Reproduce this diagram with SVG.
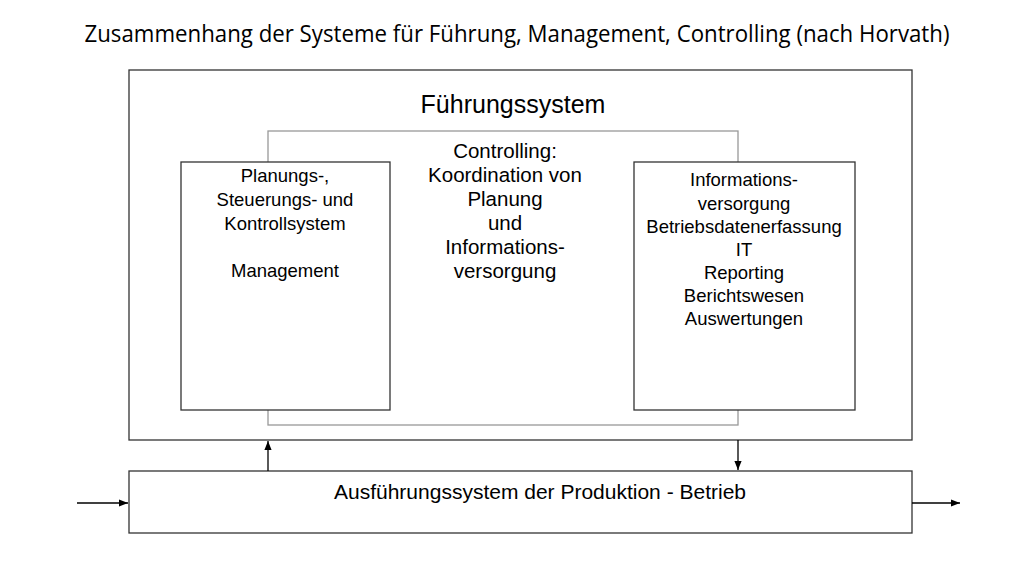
<svg xmlns="http://www.w3.org/2000/svg" width="1024" height="576" viewBox="0 0 1024 576">
<defs>
<style>
.box{fill:#fff;stroke:#333;stroke-width:1.3}
.gray{fill:none;stroke:#999;stroke-width:1.3}
text{font-family:"Liberation Sans",Arial,sans-serif;fill:#000;text-anchor:middle}
.s{font-size:18.5px}
.c{font-size:20.5px}
.ln{stroke:#000;stroke-width:1.3;fill:none}
</style>
<marker id="a" viewBox="0 0 10 10" refX="10" refY="5" markerWidth="7" markerHeight="7" orient="auto"><path d="M0,1L10,5L0,9z" fill="#000"/></marker>
</defs>
<rect width="1024" height="576" fill="#fff"/>
<text x="517" y="42" style="font-family:'Open Sans','Liberation Sans',sans-serif;font-size:23px" textLength="865" lengthAdjust="spacingAndGlyphs">Zusammenhang der Systeme für Führung, Management, Controlling (nach Horvath)</text>
<g id="fuehrung">
<rect class="box" x="129" y="70" width="783" height="370"/>
<text x="513" y="113" style="font-size:25px">Führungssystem</text>
</g>
<g id="controlling">
<rect class="gray" x="268" y="131" width="470" height="294"/>
<text class="c" x="505" y="158">Controlling:</text>
<text class="c" x="505" y="182">Koordination von</text>
<text class="c" x="505" y="206">Planung</text>
<text class="c" x="505" y="230">und</text>
<text class="c" x="505" y="254">Informations-</text>
<text class="c" x="505" y="278">versorgung</text>
</g>
<g id="planung">
<rect class="box" x="181" y="162" width="209" height="248"/>
<text class="s" x="285" y="182">Planungs-,</text>
<text class="s" x="285" y="206">Steuerungs- und</text>
<text class="s" x="285" y="230">Kontrollsystem</text>
<text class="s" x="285" y="277">Management</text>
</g>
<g id="information">
<rect class="box" x="634" y="162" width="221" height="248"/>
<text class="s" x="744" y="186">Informations-</text>
<text class="s" x="744" y="210">versorgung</text>
<text class="s" x="744" y="233">Betriebsdatenerfassung</text>
<text class="s" x="744" y="256">IT</text>
<text class="s" x="744" y="279">Reporting</text>
<text class="s" x="744" y="302">Berichtswesen</text>
<text class="s" x="744" y="325">Auswertungen</text>
</g>
<g id="ausfuehrung">
<rect class="box" x="129" y="471" width="783" height="62"/>
<text x="540" y="499" style="font-size:21px">Ausführungssystem der Produktion - Betrieb</text>
</g>
<g id="connectors">
<line class="ln" x1="268" y1="471" x2="268" y2="441" marker-end="url(#a)"/>
<line class="ln" x1="738" y1="440" x2="738" y2="470" marker-end="url(#a)"/>
<line class="ln" x1="77" y1="503" x2="128" y2="503" marker-end="url(#a)"/>
<line class="ln" x1="912" y1="503" x2="960" y2="503" marker-end="url(#a)"/>
</g>
</svg>
